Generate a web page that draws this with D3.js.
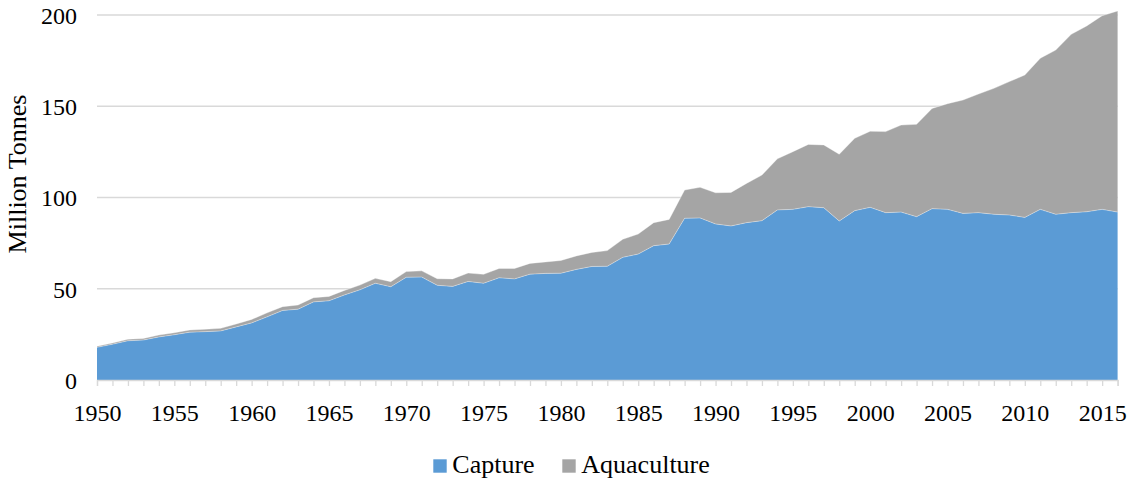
<!DOCTYPE html>
<html>
<head>
<meta charset="utf-8">
<script src="https://cdn.jsdelivr.net/npm/d3@7"></script>
<style>
  html, body { margin: 0; padding: 0; background: #ffffff; }
  svg { display: block; }
  svg text { font-family: "Liberation Serif", "Times New Roman", serif; fill: #000; }
</style>
</head>
<body>
<svg id="chart" width="1129" height="481"></svg>
<script>
const years = d3.range(1950, 2017);
const capture = [
  17.9, 19.6, 21.5, 21.9, 23.6, 24.8, 26.2, 26.5, 26.9, 29.1,
  31.3, 34.6, 38.1, 38.8, 42.8, 43.4, 46.6, 49.4, 53.0, 51.1,
  56.3, 56.4, 51.9, 51.3, 54.0, 53.0, 56.0, 55.4, 58.0, 58.4,
  58.5, 60.6, 62.2, 62.3, 67.2, 69.0, 73.6, 74.5, 88.6, 88.8,
  85.5, 84.4, 86.2, 87.3, 93.2, 93.5, 95.0, 94.4, 87.1, 92.8,
  94.6, 91.7, 92.0, 89.5, 93.9, 93.5, 91.3, 91.7, 90.8, 90.4,
  89.1, 93.5, 90.8, 91.7, 92.2, 93.5, 92.0
];
const aquaculture = [
  0.6, 0.7, 0.8, 0.9, 1.0, 1.1, 1.2, 1.3, 1.4, 1.6,
  1.9, 2.2, 2.1, 2.3, 2.3, 2.4, 2.5, 2.6, 2.7, 2.8,
  3.1, 3.4, 3.6, 4.1, 4.6, 4.9, 5.1, 5.7, 5.9, 6.3,
  7.0, 7.4, 7.7, 8.6, 9.9, 11.0, 12.6, 13.5, 15.5, 16.8,
  17.1, 18.4, 21.5, 25.0, 28.0, 31.6, 34.1, 34.4, 36.6, 39.6,
  41.7, 44.4, 47.7, 50.6, 54.9, 57.9, 62.1, 65.0, 69.0, 73.1,
  78.0, 82.8, 90.0, 97.7, 101.8, 106.1, 110.2
];
const seriesNames = ["Capture", "Aquaculture"];
const seriesColors = ["#5B9BD5", "#A5A5A5"];
const yTicks = [0, 50, 100, 150, 200];
const xTickLabels = d3.range(1950, 2016, 5);
const yTitle = "Million Tonnes";

(function () {
  const rows = years.map((yr, i) => ({ year: yr, Capture: capture[i], Aquaculture: aquaculture[i] }));
  const stacked = d3.stack().keys(seriesNames)(rows);

  const svg = d3.select("#chart");
  const pLeft = 97, pRight = 1117.6, pTop = 15, pBottom = 380;
  const font = "Liberation Serif, Times New Roman, serif";

  const x = d3.scaleLinear().domain([1950, 2016]).range([pLeft, pRight]);
  const y = d3.scaleLinear().domain([0, 200]).range([pBottom, pTop]);

  // gridlines
  svg.append("g").selectAll("line").data(yTicks.filter(d => d > 0)).join("line")
    .attr("x1", pLeft).attr("x2", pRight)
    .attr("y1", d => y(d)).attr("y2", d => y(d))
    .attr("stroke", "#d9d9d9").attr("stroke-width", 1.3);

  // areas
  const area = d3.area()
    .x(d => x(d.data.year))
    .y0(d => y(d[0]))
    .y1(d => y(d[1]));
  svg.append("g").selectAll("path").data(stacked).join("path")
    .attr("d", area)
    .attr("fill", (d, i) => seriesColors[i]);

  // subtle light boundary on top edges
  const topLine = d3.line().x(d => x(d.data.year)).y(d => y(d[1]));
  svg.append("g").selectAll("path").data(stacked).join("path")
    .attr("d", topLine)
    .attr("fill", "none")
    .attr("stroke", "#ffffff")
    .attr("stroke-opacity", 0.45)
    .attr("stroke-width", 0.8);

  // x axis
  const xAxis = d3.axisBottom(x)
    .tickValues(years)
    .tickSize(6)
    .tickFormat(d => xTickLabels.includes(d) ? String(d) : "");
  const gx = svg.append("g").attr("transform", `translate(0,${pBottom})`).call(xAxis);
  gx.attr("font-family", font);
  gx.select(".domain").attr("stroke", "#d9d9d9").attr("stroke-width", 1.3);
  gx.selectAll(".tick line").attr("stroke", "#d9d9d9").attr("stroke-width", 1.3);
  gx.selectAll(".tick text")
    .attr("font-family", font).attr("font-size", 24).attr("fill", "#000")
    .attr("dy", 0).attr("y", 41);

  // y axis labels
  const yAxis = d3.axisLeft(y).tickValues(yTicks).tickSize(0).tickPadding(20);
  const gy = svg.append("g").attr("transform", `translate(${pLeft},0)`).call(yAxis);
  gy.attr("font-family", font);
  gy.select(".domain").remove();
  gy.selectAll(".tick text")
    .attr("font-family", font).attr("font-size", 24).attr("fill", "#000")
    .attr("dy", "0.35em");

  // y title
  svg.append("text")
    .attr("transform", `translate(26,174) rotate(-90)`)
    .attr("text-anchor", "middle")
    .attr("font-family", font).attr("font-size", 26).attr("fill", "#000")
    .text(yTitle);

  // legend
  const legendX = [433.3, 562.3];
  seriesNames.forEach((name, i) => {
    const g = svg.append("g").attr("transform", `translate(${legendX[i]},0)`);
    g.append("rect").attr("x", 0).attr("y", 459.3).attr("width", 13.4).attr("height", 13.4)
      .attr("fill", seriesColors[i]);
    g.append("text").attr("x", 19).attr("y", 473)
      .attr("font-family", font).attr("font-size", 26).attr("fill", "#000")
      .text(name);
  });
})();
</script>
</body>
</html>
